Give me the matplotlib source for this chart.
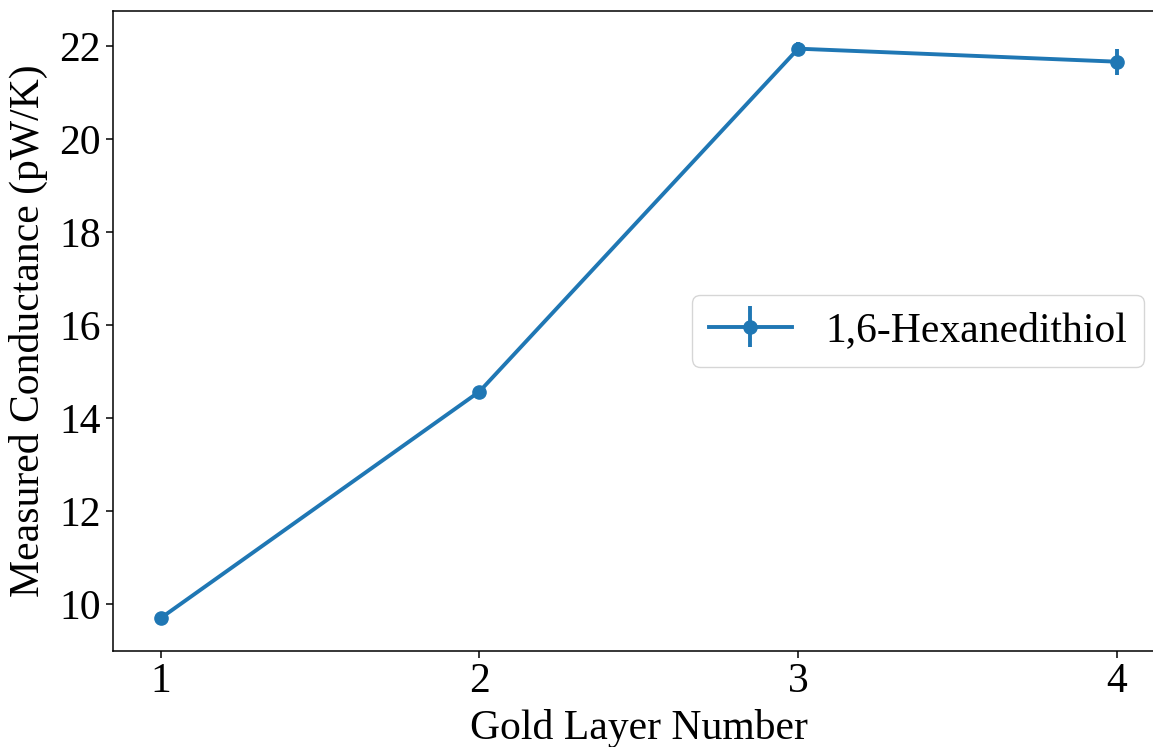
import matplotlib
matplotlib.use("Agg")
from matplotlib import pyplot as plt

# measured thermal conductance per gold layer
layers = [1, 2, 3, 4]
conductance = [9.70, 14.57, 21.94, 21.66]
conductance_err = [0.05, 0.08, 0.14, 0.28]
series_label = "1,6-Hexanedithiol"

plt.rcParams["font.family"] = ["Liberation Serif", "DejaVu Serif"]
plt.rcParams["font.size"] = 30

fig = plt.figure(figsize = (11.53, 7.47), dpi = 100)
ax = fig.add_axes([0.0979, 0.1289, 0.9123, 0.8564])

ax.errorbar(layers, conductance, yerr = conductance_err,
            fmt = "-o", color = "#1f77b4", linewidth = 2.8,
            elinewidth = 2.8, markersize = 9.5, capsize = 0,
            label = series_label)

ax.set_xlim(0.85, 4.15)
ax.set_ylim(9.0, 22.75)
ax.set_xticks(layers)
ax.set_yticks([10, 12, 14, 16, 18, 20, 22])

for side in ax.spines.values():
    side.set_linewidth(1.1)
ax.tick_params(length = 5, width = 1.1, labelsize = 30)

ax.set_xlabel("Gold Layer Number", labelpad = 6)
ax.set_ylabel("Measured Conductance (pW/K)", labelpad = 8)

ax.legend(loc = "center right", fontsize = 30, borderaxespad = 0.5)

fig.savefig("out.png", dpi = 100)
